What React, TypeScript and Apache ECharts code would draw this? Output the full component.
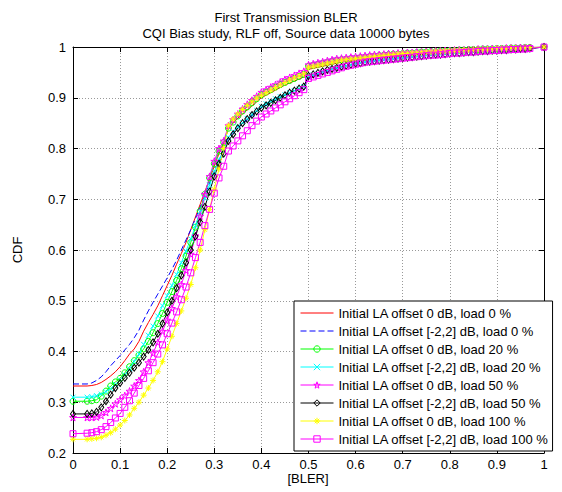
import React, { useEffect, useRef } from "react";
import * as echarts from "echarts";

// BLER sample points (x axis)
const xs = [
  0, 0.03, 0.04, 0.05, 0.06, 0.07, 0.08, 0.09,
  0.1, 0.11, 0.12, 0.13, 0.14, 0.15, 0.16, 0.17, 0.18, 0.19,
  0.2, 0.21, 0.22, 0.23, 0.24, 0.25, 0.26, 0.27, 0.28, 0.29,
  0.3, 0.31, 0.32, 0.33, 0.34, 0.35, 0.36, 0.37, 0.38, 0.39,
  0.4, 0.41, 0.42, 0.43, 0.44, 0.45, 0.46, 0.47, 0.48, 0.49,
  0.5, 0.51, 0.52, 0.53, 0.54, 0.55, 0.56, 0.57, 0.58, 0.59,
  0.6, 0.61, 0.62, 0.63, 0.64, 0.65, 0.66, 0.67, 0.68, 0.69,
  0.7, 0.71, 0.72, 0.73, 0.74, 0.75, 0.76, 0.77, 0.78, 0.79,
  0.8, 0.81, 0.82, 0.83, 0.84, 0.85, 0.86, 0.87, 0.88, 0.89,
  0.9, 0.91, 0.92, 0.93, 0.94, 0.95, 0.96, 0.97, 1,
];

const red0 = [
  .332, .332, .333, .335, .339, .345, .352, .360,
  .370, .382, .395, .405, .420, .440, .457, .473, .490, .510,
  .530, .550, .572, .593, .615, .640, .665, .690, .715, .740,
  .765, .790, .810, .840, .850, .860, .868, .876, .884, .892,
  .900, .905, .910, .915, .920, .925, .929, .933, .937, .941,
  .956, .958, .960, .962, .964, .966, .968, .970, .972, .973,
  .975, .976, .977, .978, .979, .980, .981, .982, .983, .984,
  .985, .986, .986, .987, .988, .988, .989, .990, .990, .991,
  .992, .992, .993, .993, .994, .994, .995, .995, .995, .996,
  .996, .996, .997, .997, .997, .998, .998, .998, 1,
];

const blue0 = [
  .336, .336, .338, .343, .350, .360, .372, .382,
  .392, .403, .414, .427, .442, .462, .480, .497, .513, .529,
  .545, .562, .580, .600, .620, .640, .662, .685, .708, .732,
  .755, .778, .795, .820, .830, .840, .848, .856, .864, .872,
  .880, .885, .890, .895, .900, .905, .909, .913, .917, .921,
  .940, .943, .946, .949, .952, .955, .958, .961, .963, .965,
  .967, .969, .970, .972, .973, .974, .975, .976, .977, .978,
  .979, .980, .981, .982, .983, .984, .985, .985, .986, .987,
  .988, .988, .989, .990, .990, .991, .991, .992, .992, .993,
  .993, .994, .994, .995, .995, .996, .996, .997, 1,
];

const green20 = [
  .302, .302, .303, .305, .312, .322, .332, .340,
  .347, .358, .370, .382, .393, .405, .420, .437, .455, .475,
  .497, .518, .540, .563, .588, .615, .645, .677, .710, .742,
  .770, .795, .812, .840, .852, .864, .874, .882, .890, .898,
  .906, .911, .916, .921, .926, .930, .934, .938, .942, .946,
  .962, .964, .966, .968, .970, .972, .974, .975, .976, .977,
  .978, .979, .980, .981, .982, .983, .984, .985, .986, .986,
  .987, .988, .988, .989, .990, .990, .991, .991, .992, .992,
  .993, .993, .994, .994, .995, .995, .995, .996, .996, .996,
  .997, .997, .997, .998, .998, .998, .999, .999, 1,
];

const cyan20 = [
  .310, .310, .311, .313, .316, .321, .327, .335,
  .344, .354, .366, .380, .395, .414, .432, .450, .470, .490,
  .510, .530, .552, .575, .598, .622, .648, .675, .702, .728,
  .754, .778, .795, .822, .833, .843, .851, .859, .867, .875,
  .883, .888, .893, .898, .902, .906, .910, .914, .918, .922,
  .942, .945, .948, .951, .954, .957, .959, .961, .963, .965,
  .967, .969, .970, .972, .973, .974, .975, .976, .977, .978,
  .979, .980, .981, .982, .983, .984, .985, .986, .986, .987,
  .988, .988, .989, .990, .990, .991, .992, .992, .993, .993,
  .994, .994, .995, .995, .996, .996, .997, .997, 1,
];

const star50 = [
  .270, .270, .270, .271, .274, .280, .288, .297,
  .305, .313, .322, .332, .343, .360, .378, .397, .418, .440,
  .462, .485, .508, .532, .560, .592, .628, .667, .710, .745,
  .775, .800, .815, .845, .857, .868, .878, .887, .895, .903,
  .911, .916, .921, .926, .931, .936, .940, .944, .948, .952,
  .965, .967, .969, .971, .973, .975, .977, .978, .979, .980,
  .981, .982, .983, .984, .985, .985, .986, .987, .987, .988,
  .988, .989, .989, .990, .990, .991, .991, .992, .992, .993,
  .993, .994, .994, .994, .995, .995, .996, .996, .996, .997,
  .997, .997, .998, .998, .998, .999, .999, .999, 1,
];

const black50 = [
  .277, .277, .278, .281, .290, .302, .315, .328,
  .338, .348, .358, .368, .378, .390, .403, .418, .435, .455,
  .477, .500, .525, .550, .575, .600, .627, .655, .685, .715,
  .745, .770, .790, .815, .828, .840, .850, .858, .866, .873,
  .880, .885, .890, .895, .900, .905, .910, .914, .918, .922,
  .943, .946, .949, .952, .955, .957, .959, .961, .963, .965,
  .967, .968, .970, .971, .972, .973, .974, .975, .976, .977,
  .978, .979, .980, .981, .982, .983, .984, .985, .985, .986,
  .987, .988, .988, .989, .990, .990, .991, .992, .992, .993,
  .993, .994, .994, .995, .995, .996, .996, .997, 1,
];

const yellow100 = [
  .227, .227, .228, .229, .231, .235, .240, .247,
  .255, .264, .275, .288, .300, .314, .328, .343, .360, .380,
  .405, .430, .455, .480, .505, .532, .565, .600, .640, .680,
  .720, .760, .800, .845, .858, .868, .877, .885, .892, .899,
  .905, .910, .915, .920, .925, .930, .935, .939, .943, .947,
  .960, .962, .964, .966, .968, .970, .972, .974, .975, .976,
  .977, .978, .979, .980, .981, .982, .983, .984, .985, .986,
  .987, .987, .988, .988, .989, .990, .990, .991, .991, .992,
  .992, .993, .993, .994, .994, .995, .995, .995, .996, .996,
  .997, .997, .997, .998, .998, .998, .999, .999, 1,
];

const square100 = [
  .238, .239, .240, .242, .246, .252, .260, .269,
  .278, .290, .303, .318, .333, .347, .362, .378, .395, .413,
  .435, .456, .478, .502, .527, .555, .585, .615, .648, .680,
  .712, .742, .765, .795, .805, .815, .825, .835, .845, .854,
  .862, .868, .874, .880, .886, .892, .898, .904, .910, .916,
  .938, .941, .944, .947, .950, .953, .956, .959, .962, .964,
  .966, .968, .970, .971, .972, .973, .974, .975, .976, .977,
  .978, .979, .980, .981, .982, .983, .984, .984, .985, .986,
  .987, .988, .988, .989, .990, .990, .991, .992, .992, .993,
  .993, .994, .994, .995, .995, .996, .996, .997, 1,
];

const seriesNames = [
  "Initial LA offset 0 dB, load 0 %",
  "Initial LA offset [-2,2] dB, load 0 %",
  "Initial LA offset 0 dB, load 20 %",
  "Initial LA offset [-2,2] dB, load 20 %",
  "Initial LA offset 0 dB, load 50 %",
  "Initial LA offset [-2,2] dB, load 50 %",
  "Initial LA offset 0 dB, load 100 %",
  "Initial LA offset [-2,2] dB, load 100 %",
];

const titleLines = ["First Transmission BLER", "CQI Bias study, RLF off, Source data 10000 bytes"];

const STAR = "path://M50,0 L61,35 L98,35 L68,57 L79,91 L50,70 L21,91 L32,57 L2,35 L39,35 Z";
const CROSS = "path://M0,0L10,10M10,0L0,10";
const ASTER = "path://M5,0L5,10M0,5L10,5M1.5,1.5L8.5,8.5M8.5,1.5L1.5,8.5";

export default function App() {
  const ref = useRef<HTMLDivElement>(null);
  useEffect(() => {
    const chart = echarts.init(ref.current!, null, { renderer: "svg" });
    const font = "'Liberation Sans', Arial, Helvetica, sans-serif";
    const mk = (name: string, vals: number[], color: string, symbol: string | null, size: any, dashed = false) => ({
      name,
      type: "line",
      data: xs.map((x, i) => [x, vals[i]]),
      symbol: symbol || "circle",
      symbolSize: size,
      showSymbol: !!symbol,
      color,
      lineStyle: { color, width: 1, type: dashed ? [6, 3] : "solid" },
      itemStyle: symbol
        ? { color: "rgba(0,0,0,0)", borderColor: color, borderWidth: 1 }
        : { color: "rgba(0,0,0,0)", borderColor: "rgba(0,0,0,0)", borderWidth: 0 },
      emphasis: { disabled: true },
      silent: true,
    });
    const axisCommon = {
      axisLine: { show: true, onZero: false, lineStyle: { color: "#000", width: 1 } },
      axisTick: { show: true, inside: true, length: 5, lineStyle: { color: "#000" } },
    };
    chart.setOption({
      animation: false,
      backgroundColor: "#fff",
      grid: { left: 73, right: 18, top: 47, bottom: 39, containLabel: false },
      xAxis: [
        {
          type: "value", min: 0, max: 1, interval: 0.1, position: "bottom", ...axisCommon,
          axisLabel: { color: "#000", fontSize: 13, fontFamily: font, margin: 5 },
          splitLine: { show: true, lineStyle: { color: "#999", type: [1, 2], width: 1 } },
        },
        {
          type: "value", min: 0, max: 1, interval: 0.1, position: "top", ...axisCommon,
          axisLabel: { show: false }, splitLine: { show: false },
        },
      ],
      yAxis: [
        {
          type: "value", min: 0.2, max: 1, interval: 0.1, position: "left", ...axisCommon,
          axisLabel: { color: "#000", fontSize: 13, fontFamily: font, margin: 7 },
          splitLine: { show: true, lineStyle: { color: "#999", type: [1, 2], width: 1 } },
        },
        {
          type: "value", min: 0.2, max: 1, interval: 0.1, position: "right", ...axisCommon,
          axisLabel: { show: false }, splitLine: { show: false },
        },
      ],
      legend: {
        orient: "vertical",
        left: 294,
        top: 301,
        padding: [5, 4, 5, 6],
        itemWidth: 33,
        itemHeight: 8,
        itemGap: 4,
        backgroundColor: "#fff",
        borderColor: "#000",
        borderWidth: 1,
        borderRadius: 0,
        selectedMode: false,
        itemStyle: { borderWidth: 1 },
        lineStyle: { width: 1 },
        textStyle: { fontFamily: font, fontSize: 13, color: "#000", lineHeight: 14 },
        data: seriesNames,
      },
      graphic: [
        { type: "text", x: 286, y: 17, style: { text: titleLines[0], fontSize: 13, fontFamily: font, fill: "#000", align: "center", verticalAlign: "middle" } },
        { type: "text", x: 286, y: 33, style: { text: titleLines[1], fontSize: 13, fontFamily: font, fill: "#000", align: "center", verticalAlign: "middle" } },
        { type: "text", x: 308, y: 478, style: { text: "[BLER]", fontSize: 13, fontFamily: font, fill: "#000", align: "center", verticalAlign: "middle" } },
        { type: "text", x: 17, y: 250, rotation: Math.PI / 2, style: { text: "CDF", fontSize: 13, fontFamily: font, fill: "#000", align: "center", verticalAlign: "middle" } },
      ],
      series: [
        mk(seriesNames[0], red0, "#ff0000", null, 0),
        mk(seriesNames[1], blue0, "#0000ff", null, 0, true),
        mk(seriesNames[2], green20, "#00ff00", "circle", 6),
        mk(seriesNames[3], cyan20, "#00ffff", CROSS, 5),
        mk(seriesNames[4], star50, "#ff00ff", STAR, 7),
        mk(seriesNames[5], black50, "#000000", "diamond", [5, 7]),
        mk(seriesNames[6], yellow100, "#ffff00", ASTER, 6),
        mk(seriesNames[7], square100, "#ff00ff", "rect", 6),
      ],
    });
    return () => chart.dispose();
  }, []);
  return <div ref={ref} style={{ position: "absolute", left: 0, top: 0, width: 562, height: 492 }} />;
}
